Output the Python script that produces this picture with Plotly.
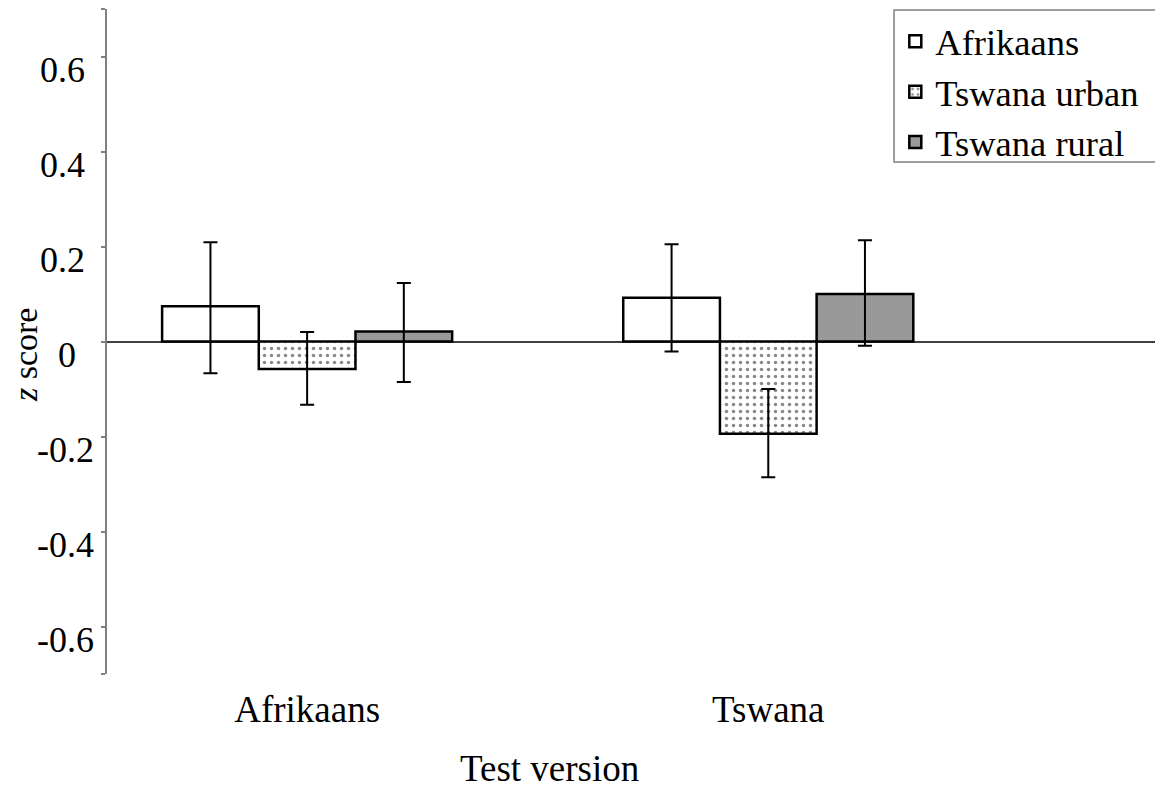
import plotly.graph_objects as go

# ---- data ----
test_versions = ["Afrikaans", "Tswana"]
series_names = ["Afrikaans", "Tswana urban", "Tswana rural"]

z_afrikaans = [0.074, 0.092]
z_tswana_urban = [-0.058, -0.194]
z_tswana_rural = [0.021, 0.100]

err_up_afrikaans = [0.135, 0.113]
err_down_afrikaans = [0.141, 0.113]
err_up_tswana_urban = [0.078, 0.094]
err_down_tswana_urban = [0.075, 0.092]
err_up_tswana_rural = [0.102, 0.113]
err_down_tswana_rural = [0.106, 0.109]

y_tick_values = [-0.7, -0.6, -0.4, -0.2, 0, 0.2, 0.4, 0.6, 0.7]
y_tick_labels = ["", "-0.6", "-0.4", "-0.2", "0", "0.2", "0.4", "0.6", ""]

x_title = "Test version"
y_title = "<i>z</i> score"

FONT = "Liberation Serif"
NB = "\u00a0"

# pad labels so they look centred like the original
def pad(lbl):
    if lbl == "":
        return ""
    if lbl.startswith("-"):
        return lbl
    if lbl == "0":
        return lbl + NB * 2
    return lbl + NB

def ebar(up, down):
    return dict(type="data", symmetric=False, array=up, arrayminus=down,
                color="black", thickness=2, width=7)

fig = go.Figure()
fig.add_trace(go.Bar(
    name=series_names[0], x=test_versions, y=z_afrikaans,
    marker=dict(color="white", line=dict(color="black", width=2.5)),
    error_y=ebar(err_up_afrikaans, err_down_afrikaans),
))
fig.add_trace(go.Bar(
    name=series_names[1], x=test_versions, y=z_tswana_urban,
    marker=dict(color="white", line=dict(color="black", width=2.5),
                pattern=dict(shape=".", size=7, solidity=0.2,
                             fgcolor="#111111", bgcolor="white")),
    error_y=ebar(err_up_tswana_urban, err_down_tswana_urban),
))
fig.add_trace(go.Bar(
    name=series_names[2], x=test_versions, y=z_tswana_rural,
    marker=dict(color="#999999", line=dict(color="black", width=2.5)),
    error_y=ebar(err_up_tswana_rural, err_down_tswana_rural),
))

fig.update_layout(
    width=1155, height=781,
    margin=dict(l=99, r=0, t=1, b=115),
    paper_bgcolor="white", plot_bgcolor="white",
    font=dict(family=FONT, size=36, color="black"),
    barmode="group", bargap=0.371, bargroupgap=0,
    showlegend=True,
    legend=dict(
        x=0.7465, xanchor="left", y=0.997, yanchor="top",
        borderwidth=0, bgcolor="rgba(0,0,0,0)",
        font=dict(family=FONT, size=36.5, color="black"),
        tracegroupgap=0,
    ),
    xaxis=dict(
        type="category", range=[-0.434, 1.856],
        showline=False, ticks="", showgrid=False, zeroline=False,
        tickfont=dict(family=FONT, size=37),
        ticklabelstandoff=10,
    ),
    yaxis=dict(
        range=[-0.7, 0.7],
        tickvals=y_tick_values, ticktext=[pad(t) for t in y_tick_labels],
        showline=True, linecolor="#808080", linewidth=1.5,
        ticks="outside", ticklen=4, tickcolor="#808080", tickwidth=1.5,
        showgrid=False,
        zeroline=True, zerolinecolor="#404040", zerolinewidth=1.5,
        tickfont=dict(family=FONT, size=36),
        ticklabelshift=13,
    ),
    shapes=[
        # legend frame (runs past the right edge as in the original)
        dict(type="rect", xref="paper", yref="paper",
             x0=0.7453, x1=1.05, y0=0.770, y1=0.9985,
             line=dict(color="#808080", width=1.5), fillcolor="white",
             layer="below"),
    ],
    annotations=[
        dict(text=x_title, xref="paper", yref="paper", x=0.4195, y=-0.1414,
             xanchor="center", yanchor="middle", showarrow=False,
             font=dict(family=FONT, size=37, color="black")),
        dict(text=y_title, xref="paper", yref="paper", x=-0.0767, y=0.4797,
             xanchor="center", yanchor="middle", showarrow=False, textangle=-90,
             font=dict(family=FONT, size=34, color="black")),
    ],
)

fig.write_html("out.html")
